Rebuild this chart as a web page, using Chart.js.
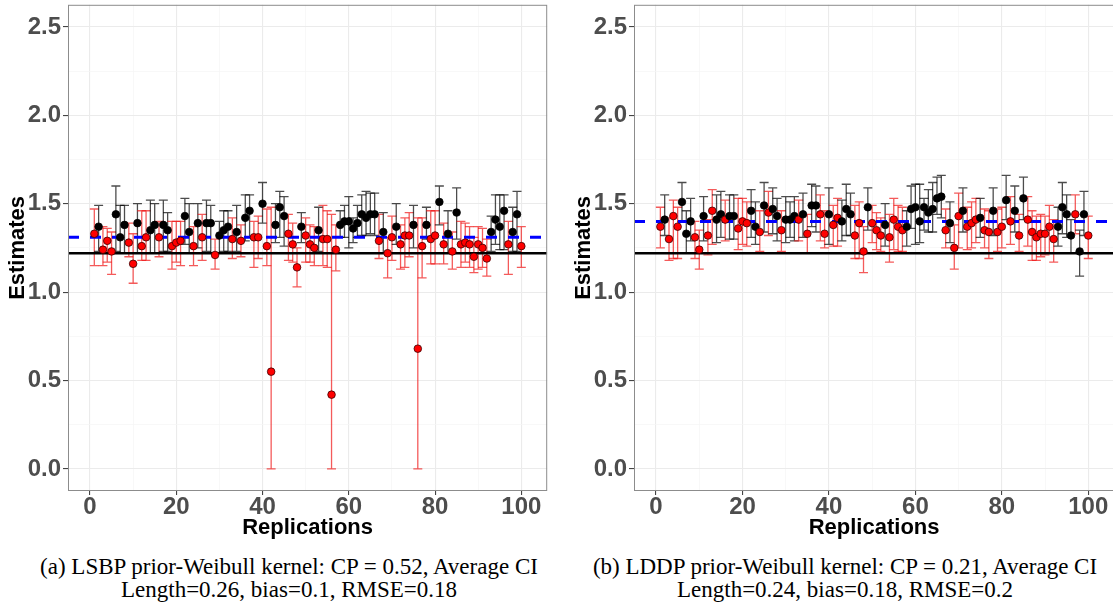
<!DOCTYPE html>
<html>
<head>
<meta charset="utf-8">
<script src="https://cdn.jsdelivr.net/npm/chart.js@4.4.0/dist/chart.umd.min.js"></script>
<style>
  body { margin: 0; background: #fff; width: 1113px; height: 610px; position: relative; overflow: hidden; }
  .panel { position: absolute; top: 0; height: 545px; }
  .caption { position: absolute; top: 555px; font-family: "Liberation Serif", "Times New Roman", serif;
             font-size: 23px; line-height: 23px; text-align: center; color: #000; white-space: nowrap; }
</style>
</head>
<body>
<!-- widths include ~6 px that Chart.js keeps at the right of the plot -->
<div class="panel" style="left:0;width:552px"><canvas id="chartA"></canvas></div>
<div class="panel" style="left:566px;width:553px"><canvas id="chartB"></canvas></div>
<div class="caption" style="left:0;width:578px">(a) LSBP prior-Weibull kernel: CP = 0.52, Average CI<br>Length=0.26, bias=0.1, RMSE=0.18</div>
<div class="caption" style="left:566px;width:558px">(b) LDDP prior-Weibull kernel: CP = 0.21, Average CI<br>Length=0.24, bias=0.18, RMSE=0.2</div>

<script>
// replication index 1..100
const replications = Array.from({ length: 100 }, (_, i) => i + 1);

// 1 = red point (interval covers), 0 = black point
const covered = [
  1,0,1,1,1,0,0,0,1,1, 0,1,1,0,0,1,0,0,1,1,
  1,0,0,1,0,1,0,0,1,0, 0,0,1,0,1,0,0,1,1,0,
  1,1,0,0,0,1,1,1,0,1, 1,1,0,1,1,1,1,0,0,0,
  0,0,0,0,0,0,1,0,1,1, 0,1,1,1,0,1,1,0,1,1,
  0,1,0,1,0,1,1,1,1,1, 1,1,0,0,0,0,1,0,0,1
];

const trueValue = 1.22;
const lsbpMean = 1.31;
const lddpMean = 1.40;

// panel (a) LSBP
const lsbpEst = [
  1.33,1.37,1.24,1.29,1.23,1.44,1.31,1.38,1.28,1.16, 1.39,1.26,1.31,1.35,1.38,1.31,1.38,1.35,1.26,1.28,
  1.29,1.43,1.34,1.26,1.39,1.31,1.39,1.39,1.21,1.32, 1.35,1.37,1.30,1.34,1.29,1.42,1.46,1.31,1.31,1.50,
  1.26,0.55,1.38,1.48,1.43,1.33,1.27,1.14,1.37,1.32, 1.27,1.25,1.35,1.30,1.30,0.42,1.24,1.38,1.40,1.40,
  1.36,1.39,1.44,1.42,1.44,1.44,1.29,1.34,1.22,1.31, 1.37,1.27,1.32,1.32,1.38,0.68,1.26,1.38,1.30,1.32,
  1.51,1.27,1.33,1.23,1.45,1.27,1.28,1.27,1.20,1.27, 1.25,1.19,1.34,1.41,1.37,1.46,1.27,1.34,1.44,1.26
];
const lsbpLower = [
  1.15,1.23,1.15,1.17,1.10,1.23,1.22,1.22,1.20,1.05, 1.22,1.18,1.18,1.22,1.22,1.20,1.23,1.23,1.13,1.17,
  1.15,1.27,1.22,1.15,1.25,1.18,1.23,1.22,1.13,1.22, 1.23,1.23,1.19,1.23,1.20,1.29,1.31,1.14,1.19,1.39,
  1.15,0.00,1.28,1.31,1.26,1.18,1.17,1.03,1.28,1.17, 1.17,1.15,1.23,1.15,1.14,0.00,1.12,1.31,1.31,1.25,
  1.28,1.31,1.32,1.32,1.33,1.32,1.19,1.22,1.08,1.18, 1.27,1.13,1.14,1.20,1.25,0.00,1.08,1.30,1.16,1.16,
  1.38,1.16,1.22,1.13,1.30,1.14,1.17,1.14,1.11,1.13, 1.14,1.09,1.23,1.27,1.24,1.24,1.10,1.23,1.23,1.14
];
const lsbpUpper = [
  1.47,1.49,1.37,1.36,1.34,1.60,1.49,1.49,1.39,1.33, 1.50,1.46,1.46,1.52,1.50,1.40,1.52,1.45,1.40,1.40,
  1.40,1.53,1.50,1.37,1.50,1.44,1.52,1.49,1.30,1.40, 1.46,1.46,1.42,1.49,1.38,1.55,1.55,1.40,1.43,1.62,
  1.47,1.48,1.50,1.57,1.54,1.44,1.39,1.25,1.45,1.42, 1.38,1.37,1.48,1.49,1.46,1.44,1.38,1.46,1.49,1.54,
  1.42,1.49,1.55,1.57,1.56,1.56,1.44,1.45,1.31,1.43, 1.50,1.38,1.42,1.45,1.49,1.42,1.42,1.48,1.46,1.46,
  1.60,1.39,1.46,1.34,1.59,1.40,1.39,1.37,1.31,1.37, 1.36,1.30,1.43,1.55,1.55,1.55,1.40,1.48,1.57,1.37
];

// panel (b) LDDP
const lddpEst = [
  1.37,1.41,1.30,1.43,1.37,1.51,1.33,1.40,1.31,1.24, 1.43,1.32,1.46,1.41,1.44,1.41,1.43,1.43,1.36,1.40,
  1.39,1.46,1.37,1.34,1.49,1.45,1.47,1.43,1.35,1.41, 1.41,1.43,1.41,1.44,1.33,1.49,1.49,1.44,1.33,1.44,
  1.38,1.42,1.40,1.47,1.44,1.32,1.39,1.23,1.48,1.39, 1.35,1.32,1.38,1.31,1.41,1.37,1.35,1.37,1.47,1.48,
  1.40,1.48,1.45,1.47,1.53,1.54,1.35,1.39,1.25,1.43, 1.46,1.37,1.39,1.41,1.42,1.35,1.34,1.46,1.34,1.37,
  1.52,1.40,1.46,1.32,1.53,1.41,1.34,1.31,1.33,1.33, 1.37,1.30,1.37,1.48,1.44,1.32,1.44,1.23,1.44,1.32
];
const lddpLower = [
  1.25,1.32,1.18,1.19,1.19,1.40,1.22,1.29,1.19,1.13, 1.29,1.21,1.27,1.28,1.31,1.29,1.30,1.30,1.24,1.27,
  1.26,1.31,1.27,1.23,1.34,1.32,1.33,1.29,1.23,1.28, 1.31,1.29,1.29,1.31,1.22,1.37,1.34,1.29,1.25,1.27,
  1.26,1.26,1.29,1.32,1.32,1.19,1.19,1.11,1.35,1.28, 1.24,1.23,1.26,1.17,1.24,1.23,1.23,1.26,1.36,1.27,
  1.28,1.35,1.34,1.34,1.44,1.42,1.25,1.28,1.13,1.25, 1.34,1.24,1.25,1.28,1.31,1.25,1.19,1.32,1.23,1.25,
  1.41,1.27,1.34,1.23,1.41,1.26,1.18,1.18,1.20,1.21, 1.22,1.17,1.26,1.33,1.31,1.22,1.33,1.09,1.32,1.19
];
const lddpUpper = [
  1.48,1.55,1.42,1.52,1.48,1.62,1.46,1.53,1.40,1.35, 1.54,1.41,1.58,1.55,1.57,1.52,1.55,1.55,1.53,1.53,
  1.51,1.58,1.51,1.46,1.62,1.57,1.59,1.53,1.46,1.54, 1.51,1.54,1.52,1.56,1.44,1.61,1.60,1.55,1.46,1.59,
  1.49,1.53,1.52,1.61,1.56,1.49,1.51,1.37,1.59,1.49, 1.45,1.42,1.50,1.44,1.53,1.49,1.48,1.46,1.60,1.61,
  1.61,1.53,1.58,1.62,1.65,1.66,1.47,1.51,1.38,1.56, 1.59,1.48,1.51,1.53,1.53,1.47,1.46,1.59,1.47,1.48,
  1.66,1.54,1.60,1.44,1.65,1.54,1.46,1.43,1.44,1.43, 1.49,1.41,1.48,1.62,1.55,1.41,1.55,1.35,1.57,1.43
];

const xTicks = [0, 10, 20, 30, 40, 50, 60, 70, 80, 90, 100];
const yTicks = [0, 0.25, 0.5, 0.75, 1, 1.25, 1.5, 1.75, 2, 2.25, 2.5];
const xMin = -5.1, xMax = 106;
const yMin = -0.125, yMax = 2.625;

const RED = '#FF0000';
const sansFont = '"Liberation Sans", Arial, Helvetica, sans-serif';

// draws the vertical intervals with caps, under the points
const errorBarPlugin = {
  id: 'errorBars',
  beforeDatasetsDraw(chart) {
    const ds = chart.data.datasets[0];
    const { ctx, chartArea, scales: { x, y } } = chart;
    ctx.save();
    ctx.beginPath();
    ctx.rect(chartArea.left, chartArea.top, chartArea.right - chartArea.left, chartArea.bottom - chartArea.top);
    ctx.clip();
    ctx.lineWidth = 1.3;
    ds.data.forEach((p, i) => {
      const px = x.getPixelForValue(p.x);
      const lo = y.getPixelForValue(ds.lower[i]);
      const hi = y.getPixelForValue(ds.upper[i]);
      ctx.strokeStyle = covered[i] ? 'rgba(240,20,20,0.7)' : 'rgba(0,0,0,0.7)';
      ctx.beginPath();
      ctx.moveTo(px, lo); ctx.lineTo(px, hi);
      ctx.moveTo(px - 4.5, lo); ctx.lineTo(px + 4.5, lo);
      ctx.moveTo(px - 4.5, hi); ctx.lineTo(px + 4.5, hi);
      ctx.stroke();
    });
    ctx.restore();
  }
};

const panelBorder = {
  id: 'panelBorder',
  afterDraw(chart) {
    const { ctx, chartArea: a } = chart;
    ctx.save();
    ctx.strokeStyle = '#8c8c8c';
    ctx.lineWidth = 1;
    ctx.strokeRect(a.left + 0.5, a.top + 0.5, a.right - a.left - 1, a.bottom - a.top - 1);
    ctx.restore();
  }
};

function makeChart(id, est, lower, upper, meanValue) {
  const points = replications.map((r, i) => ({ x: r, y: est[i] }));
  return new Chart(document.getElementById(id), {
    type: 'scatter',
    data: {
      datasets: [
        {
          data: points,
          lower: lower,
          upper: upper,
          pointRadius: 3.8,
          pointBackgroundColor: covered.map(c => c ? RED : '#000'),
          pointBorderColor: covered.map(c => c ? '#3a0000' : '#000'),
          pointBorderWidth: 0.8,
          order: 0
        },
        {
          data: [{ x: xMin, y: meanValue }, { x: xMax, y: meanValue }],
          showLine: true,
          borderColor: '#0000FF',
          borderWidth: 3,
          borderDash: [11, 11],
          pointRadius: 0,
          order: 1
        },
        {
          data: [{ x: xMin, y: trueValue }, { x: xMax, y: trueValue }],
          showLine: true,
          borderColor: '#000',
          borderWidth: 2.5,
          pointRadius: 0,
          order: 2
        }
      ]
    },
    options: {
      responsive: true,
      maintainAspectRatio: false,
      animation: false,
      events: [],
      layout: { padding: { top: 2, left: 0, right: 0, bottom: 0 } },
      plugins: { legend: { display: false }, tooltip: { enabled: false } },
      scales: {
        x: {
          type: 'linear',
          min: xMin,
          max: xMax,
          afterBuildTicks: s => { s.ticks = xTicks.map(v => ({ value: v })); },
          afterFit: s => { s.height = 54; s.paddingLeft = 0; s.paddingRight = 0; },
          border: { display: false },
          grid: {
            color: c => c.tick && c.tick.value % 20 === 0 ? '#EBEBEB' : '#F5F5F5',
            lineWidth: c => c.tick && c.tick.value % 20 === 0 ? 1.1 : 0.7,
            tickColor: c => c.tick && c.tick.value % 20 === 0 ? '#444' : 'rgba(0,0,0,0)',
            tickLength: 4
          },
          ticks: {
            padding: 0,
            color: '#4D4D4D',
            font: { family: sansFont, size: 24, weight: 'bold', lineHeight: 1 },
            callback: v => v % 20 === 0 ? String(v) : ''
          },
          title: {
            display: true,
            text: 'Replications',
            color: '#000',
            padding: { top: 0, bottom: 6 },
            font: { family: sansFont, size: 22, weight: 'bold', lineHeight: 1 }
          }
        },
        y: {
          type: 'linear',
          min: yMin,
          max: yMax,
          afterBuildTicks: s => { s.ticks = yTicks.map(v => ({ value: v })); },
          afterFit: s => { s.width = 68; s.paddingTop = 0; s.paddingBottom = 0; },
          border: { display: false },
          grid: {
            color: c => c.tick && (c.tick.value * 2) % 1 === 0 ? '#EBEBEB' : '#F5F5F5',
            lineWidth: c => c.tick && (c.tick.value * 2) % 1 === 0 ? 1.1 : 0.7,
            tickColor: c => c.tick && (c.tick.value * 2) % 1 === 0 ? '#444' : 'rgba(0,0,0,0)',
            tickLength: 5
          },
          ticks: {
            padding: 2,
            color: '#4D4D4D',
            font: { family: sansFont, size: 24, weight: 'bold', lineHeight: 1 },
            callback: v => (v * 2) % 1 === 0 ? v.toFixed(1) : ''
          },
          title: {
            display: true,
            text: 'Estimates',
            color: '#000',
            padding: { top: 7, bottom: 0 },
            font: { family: sansFont, size: 22, weight: 'bold', lineHeight: 1 }
          }
        }
      }
    },
    plugins: [errorBarPlugin, panelBorder]
  });
}

makeChart('chartA', lsbpEst, lsbpLower, lsbpUpper, lsbpMean);
makeChart('chartB', lddpEst, lddpLower, lddpUpper, lddpMean);
</script>
</body>
</html>
